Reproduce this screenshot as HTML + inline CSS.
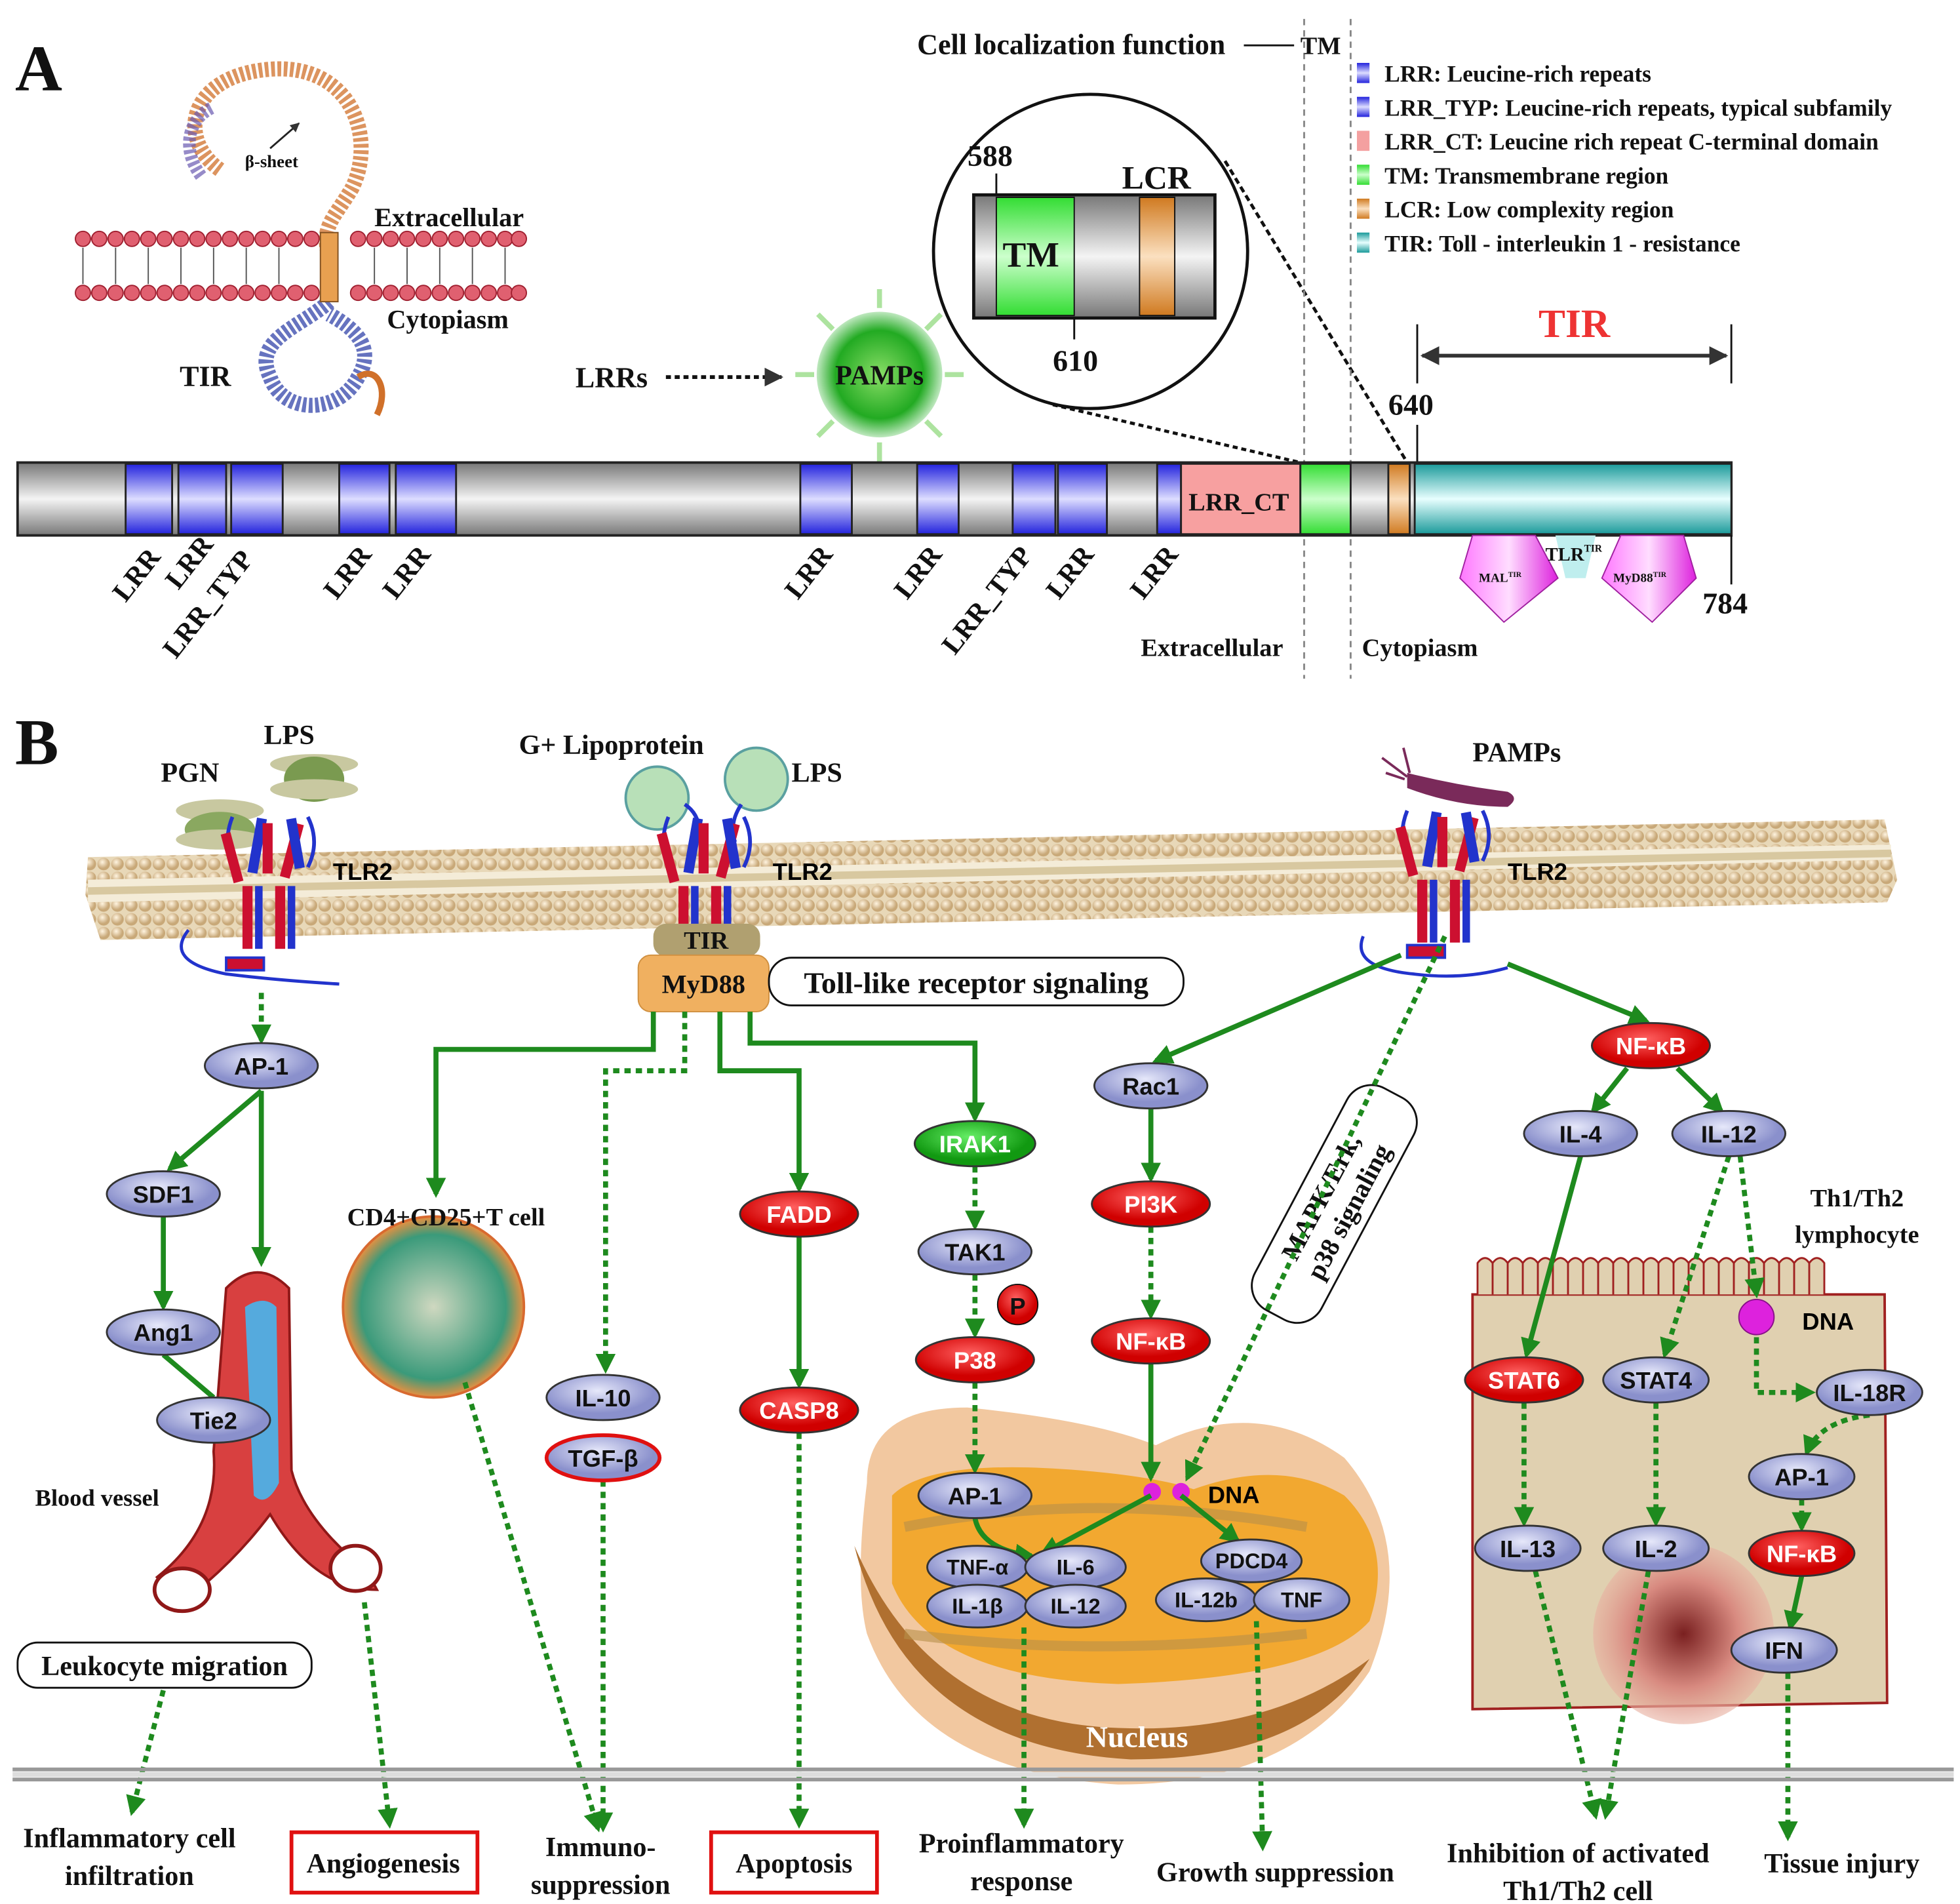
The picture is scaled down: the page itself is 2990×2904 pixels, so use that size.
<!DOCTYPE html>
<html><head><meta charset="utf-8"><style>
html,body{margin:0;padding:0;background:#fff}
svg{display:block}
.s{font-family:"Liberation Serif",serif;font-weight:bold;fill:#111}
.n{font-family:"Liberation Sans",sans-serif;font-weight:bold;text-anchor:middle;font-size:19px}
</style></head><body>
<svg width="2990" height="2904" viewBox="0 0 1560 1515" xmlns="http://www.w3.org/2000/svg">
<defs>
<linearGradient id="gbar" x1="0" y1="0" x2="0" y2="1"><stop offset="0" stop-color="#777"/><stop offset=".5" stop-color="#f4f4f4"/><stop offset="1" stop-color="#777"/></linearGradient>
<linearGradient id="gblue" x1="0" y1="0" x2="0" y2="1"><stop offset="0" stop-color="#2222dd"/><stop offset=".5" stop-color="#ddddff"/><stop offset="1" stop-color="#2222dd"/></linearGradient>
<linearGradient id="ggreen" x1="0" y1="0" x2="0" y2="1"><stop offset="0" stop-color="#33dd33"/><stop offset=".5" stop-color="#ccffcc"/><stop offset="1" stop-color="#33dd33"/></linearGradient>
<linearGradient id="gor" x1="0" y1="0" x2="0" y2="1"><stop offset="0" stop-color="#d07a20"/><stop offset=".5" stop-color="#fbe0c0"/><stop offset="1" stop-color="#d07a20"/></linearGradient>
<linearGradient id="gteal" x1="0" y1="0" x2="0" y2="1"><stop offset="0" stop-color="#1a9a9a"/><stop offset=".5" stop-color="#e8ffff"/><stop offset="1" stop-color="#1a9a9a"/></linearGradient>
<linearGradient id="gpink" x1="0" y1="0" x2="1" y2="0"><stop offset="0" stop-color="#ff77ff"/><stop offset=".5" stop-color="#ffddff"/><stop offset="1" stop-color="#dd22dd"/></linearGradient>
<radialGradient id="gpamp"><stop offset="0" stop-color="#88dd66"/><stop offset=".7" stop-color="#22aa22"/><stop offset="1" stop-color="#bfe8bf"/></radialGradient>
<radialGradient id="gnode" cx=".45" cy=".35"><stop offset="0" stop-color="#e6e8fa"/><stop offset="1" stop-color="#8a90cc"/></radialGradient>
<radialGradient id="gred" cx=".45" cy=".35"><stop offset="0" stop-color="#ff6060"/><stop offset="1" stop-color="#d00000"/></radialGradient>
<radialGradient id="ggr" cx=".45" cy=".35"><stop offset="0" stop-color="#66ee66"/><stop offset="1" stop-color="#119911"/></radialGradient>
<radialGradient id="gbead" cx=".4" cy=".35"><stop offset="0" stop-color="#fff4e0"/><stop offset="1" stop-color="#c8a878"/></radialGradient>
<radialGradient id="gtc"><stop offset="0" stop-color="#cfd8c0"/><stop offset=".8" stop-color="#3a9a7a"/><stop offset="1" stop-color="#e89040"/></radialGradient>
<radialGradient id="gnuc"><stop offset="0" stop-color="#7a2020"/><stop offset=".6" stop-color="#d88a80"/><stop offset="1" stop-color="#e8b0a0" stop-opacity=".6"/></radialGradient>
<pattern id="beads" width="11" height="11" patternUnits="userSpaceOnUse"><rect width="11" height="11" fill="#e8d8b8"/><circle cx="5.5" cy="5.5" r="5" fill="url(#gbead)"/></pattern>
<marker id="ag" viewBox="0 0 10 10" refX="8" refY="5" markerWidth="4" markerHeight="4" orient="auto"><path d="M0,0L10,5L0,10z" fill="#1e8a1e"/></marker>
<marker id="ak" viewBox="0 0 10 10" refX="9" refY="5" markerWidth="5" markerHeight="5" orient="auto-start-reverse"><path d="M0,0L10,5L0,10z" fill="#333"/></marker>
<g id="rec">
<path d="M-30,-45 q-8,20 0,40 M30,-45 q10,20 0,40" stroke="#2233cc" stroke-width="3" fill="none"/>
<rect x="-30" y="-40" width="8" height="40" fill="#cc1030" transform="rotate(-15)"/>
<rect x="-18" y="-42" width="8" height="44" fill="#2233cc" transform="rotate(10)"/>
<rect x="-6" y="-40" width="8" height="40" fill="#cc1030"/>
<rect x="8" y="-44" width="8" height="44" fill="#cc1030" transform="rotate(15)"/>
<rect x="20" y="-40" width="8" height="40" fill="#2233cc" transform="rotate(-10)"/>
<rect x="-22" y="10" width="8" height="50" fill="#cc1030"/><rect x="-12" y="10" width="6" height="50" fill="#2233cc"/>
<rect x="4" y="10" width="8" height="50" fill="#cc1030"/><rect x="14" y="10" width="6" height="50" fill="#2233cc"/>
</g>
</defs>

<text class="s" x="12" y="72" font-size="52">A</text>
<path d="M175,135 C140,110 150,60 215,55 C280,50 300,110 280,150 C265,175 255,180 262,205" stroke="#d0702a" stroke-width="12" fill="none" opacity=".75" stroke-dasharray="3 2"/>
<path d="M160,140 C145,120 148,95 170,85" stroke="#6a5ab0" stroke-width="10" fill="none" opacity=".7" stroke-dasharray="3 2"/>
<path d="M262,240 C240,260 200,270 215,300 C225,330 270,330 285,300 C300,275 280,260 262,250" stroke="#3344aa" stroke-width="12" fill="none" opacity=".75" stroke-dasharray="3 2"/>
<path d="M285,300 C300,290 310,310 300,330" stroke="#d0702a" stroke-width="5" fill="none"/>
<line x1="215" y1="118" x2="238" y2="98" stroke="#222" stroke-width="1.5" marker-end="url(#ak)"/>
<text class="s" x="195" y="133" font-size="14">β-sheet</text>
<g fill="#e06070" stroke="#a02030" stroke-width="1">
<g id="crow">
<circle cx="66" cy="190" r="6"/><circle cx="79" cy="190" r="6"/><circle cx="92" cy="190" r="6"/><circle cx="105" cy="190" r="6"/><circle cx="118" cy="190" r="6"/><circle cx="131" cy="190" r="6"/><circle cx="144" cy="190" r="6"/><circle cx="157" cy="190" r="6"/><circle cx="170" cy="190" r="6"/><circle cx="183" cy="190" r="6"/><circle cx="196" cy="190" r="6"/><circle cx="209" cy="190" r="6"/><circle cx="222" cy="190" r="6"/><circle cx="235" cy="190" r="6"/><circle cx="248" cy="190" r="6"/>
<circle cx="285" cy="190" r="6"/><circle cx="298" cy="190" r="6"/><circle cx="311" cy="190" r="6"/><circle cx="324" cy="190" r="6"/><circle cx="337" cy="190" r="6"/><circle cx="350" cy="190" r="6"/><circle cx="363" cy="190" r="6"/><circle cx="376" cy="190" r="6"/><circle cx="389" cy="190" r="6"/><circle cx="402" cy="190" r="6"/><circle cx="413" cy="190" r="6"/>
</g>
<use href="#crow" y="43"/>
</g>
<path d="M66,197V226M92,197V226M118,197V226M144,197V226M170,197V226M196,197V226M222,197V226M298,197V226M324,197V226M350,197V226M376,197V226M402,197V226" stroke="#555" stroke-width="1"/>
<rect x="255" y="185" width="14" height="55" fill="#e8a050" stroke="#805020"/>
<text class="s" x="298" y="180" font-size="21">Extracellular</text>
<text class="s" x="308" y="261" font-size="21">Cytopiasm</text>
<text class="s" x="143" y="307" font-size="23">TIR</text>
<text class="s" x="458" y="308" font-size="23">LRRs</text>
<line x1="530" y1="300" x2="622" y2="300" stroke="#111" stroke-width="3" stroke-dasharray="4 3" marker-end="url(#ak)"/>
<g stroke="#99dd88" stroke-width="4" opacity=".8"><path d="M700,245v-15M700,352v15M648,298h-15M752,298h15M663,262l-12,-12M737,262l12,-12M663,335l-12,12M737,335l12,12"/></g>
<circle cx="700" cy="298" r="50" fill="url(#gpamp)"/>
<text class="s" x="700" y="306" font-size="22" text-anchor="middle">PAMPs</text>
<ellipse cx="868" cy="200" rx="125" ry="125" fill="#fff" stroke="#111" stroke-width="2.5"/>
<rect x="775" y="155" width="192" height="98" fill="url(#gbar)" stroke="#111" stroke-width="2.5"/>
<rect x="793" y="157" width="62" height="94" fill="url(#ggreen)" stroke="#111"/>
<rect x="907" y="157" width="28" height="94" fill="url(#gor)" stroke="#111"/>
<line x1="793" y1="138" x2="793" y2="155" stroke="#111" stroke-width="1.5"/>
<line x1="855" y1="253" x2="855" y2="270" stroke="#111" stroke-width="1.5"/>
<text class="s" x="770" y="132" font-size="24" font-family="Liberation Sans">588</text>
<text class="s" x="893" y="150" font-size="26">LCR</text>
<text class="s" x="798" y="212" font-size="28">TM</text>
<text class="s" x="838" y="295" font-size="24" font-family="Liberation Sans">610</text>
<line x1="838" y1="322" x2="1035" y2="368" stroke="#111" stroke-width="2.5" stroke-dasharray="4 3"/>
<line x1="975" y1="128" x2="1120" y2="368" stroke="#111" stroke-width="2.5" stroke-dasharray="5 3"/>
<line x1="1038" y1="15" x2="1038" y2="540" stroke="#888" stroke-width="1.5" stroke-dasharray="5 4"/>
<line x1="1075" y1="15" x2="1075" y2="540" stroke="#888" stroke-width="1.5" stroke-dasharray="5 4"/>
<text class="s" x="730" y="43" font-size="23">Cell localization function</text>
<line x1="990" y1="36" x2="1030" y2="36" stroke="#111" stroke-width="1.5"/>
<text class="s" x="1035" y="43" font-size="20">TM</text>
<g class="s">
<rect x="1080" y="50" width="10" height="16" fill="url(#gblue)"/><text class="s" x="1102" y="65" font-size="18.5">LRR: Leucine-rich repeats</text>
<rect x="1080" y="77" width="10" height="16" fill="url(#gblue)"/><text class="s" x="1102" y="92" font-size="18.5">LRR_TYP: Leucine-rich repeats, typical  subfamily</text>
<rect x="1080" y="104" width="10" height="16" fill="#f4a0a0"/><text class="s" x="1102" y="119" font-size="18.5">LRR_CT: Leucine rich repeat C-terminal domain</text>
<rect x="1080" y="131" width="10" height="16" fill="url(#ggreen)"/><text class="s" x="1102" y="146" font-size="18.5">TM: Transmembrane region</text>
<rect x="1080" y="158" width="10" height="16" fill="url(#gor)"/><text class="s" x="1102" y="173" font-size="18.5">LCR: Low complexity region</text>
<rect x="1080" y="185" width="10" height="16" fill="url(#gteal)"/><text class="s" x="1102" y="200" font-size="18.5">TIR: Toll - interleukin 1 - resistance</text>
</g>
<text x="1253" y="268" font-size="32" text-anchor="middle" fill="#ee3333" font-family="Liberation Serif" font-weight="bold">TIR</text>
<line x1="1128" y1="258" x2="1128" y2="305" stroke="#111" stroke-width="1.5"/>
<line x1="1378" y1="258" x2="1378" y2="305" stroke="#111" stroke-width="1.5"/>
<line x1="1132" y1="283" x2="1374" y2="283" stroke="#333" stroke-width="3" marker-start="url(#ak)" marker-end="url(#ak)"/>
<text class="s" x="1105" y="330" font-size="24" font-family="Liberation Sans">640</text>
<line x1="1128" y1="338" x2="1128" y2="370" stroke="#111" stroke-width="1.5"/>
<rect x="14" y="368" width="1364" height="58" fill="url(#gbar)" stroke="#222" stroke-width="2"/>
<g stroke="#222" stroke-width="1.5">
<rect x="100" y="369" width="37" height="56" fill="url(#gblue)"/><rect x="142" y="369" width="38" height="56" fill="url(#gblue)"/><rect x="184" y="369" width="41" height="56" fill="url(#gblue)"/>
<rect x="270" y="369" width="40" height="56" fill="url(#gblue)"/><rect x="315" y="369" width="48" height="56" fill="url(#gblue)"/>
<rect x="637" y="369" width="41" height="56" fill="url(#gblue)"/><rect x="730" y="369" width="33" height="56" fill="url(#gblue)"/>
<rect x="806" y="369" width="34" height="56" fill="url(#gblue)"/><rect x="842" y="369" width="39" height="56" fill="url(#gblue)"/><rect x="921" y="369" width="19" height="56" fill="url(#gblue)"/>
<rect x="940" y="369" width="95" height="56" fill="#f7a0a0"/>
<rect x="1035" y="369" width="40" height="56" fill="url(#ggreen)"/>
<rect x="1105" y="369" width="17" height="56" fill="url(#gor)"/>
<rect x="1126" y="369" width="252" height="56" fill="url(#gteal)"/>
</g>
<text class="s" x="946" y="406" font-size="20">LRR_CT</text>
<polygon points="1238,426 1270,426 1262,460 1246,460" fill="#bfeeee"/>
<polygon points="1172,426 1222,426 1240,460 1197,495 1162,460" fill="url(#gpink)" stroke="#a020a0"/>
<polygon points="1290,426 1340,426 1350,460 1315,495 1275,460" fill="url(#gpink)" stroke="#a020a0"/>
<text class="s" x="1230" y="446" font-size="15">TLR<tspan font-size="8" dy="-7">TIR</tspan></text>
<text class="s" x="1177" y="463" font-size="10">MAL<tspan font-size="6" dy="-4">TIR</tspan></text>
<text class="s" x="1284" y="463" font-size="10">MyD88<tspan font-size="6" dy="-4">TIR</tspan></text>
<line x1="1378" y1="426" x2="1378" y2="465" stroke="#111" stroke-width="1.5"/>
<text class="s" x="1355" y="488" font-size="24" font-family="Liberation Sans">784</text>
<g class="s" font-size="22">
<text transform="translate(100,480) rotate(-52)">LRR</text>
<text transform="translate(142,470) rotate(-52)">LRR</text>
<text transform="translate(140,525) rotate(-52)">LRR_TYP</text>
<text transform="translate(268,478) rotate(-52)">LRR</text>
<text transform="translate(315,478) rotate(-52)">LRR</text>
<text transform="translate(635,478) rotate(-52)">LRR</text>
<text transform="translate(722,478) rotate(-52)">LRR</text>
<text transform="translate(760,522) rotate(-52)">LRR_TYP</text>
<text transform="translate(843,478) rotate(-52)">LRR</text>
<text transform="translate(910,478) rotate(-52)">LRR</text>
</g>
<text class="s" x="908" y="522" font-size="20">Extracellular</text>
<text class="s" x="1084" y="522" font-size="20">Cytopiasm</text>

<text class="s" x="12" y="608" font-size="52">B</text>
<polygon points="70,682 1500,652 1510,700 1502,718 80,748 68,712" fill="url(#beads)"/>
<polygon points="70,700 1505,672 1505,684 70,718" fill="#f4ecd8"/>
<path d="M70,709 L1505,679" stroke="#d8c8a0" stroke-width="6"/>
<g><ellipse cx="175" cy="645" rx="35" ry="9" fill="#c8c8a0"/><ellipse cx="175" cy="660" rx="28" ry="14" fill="#8aa860"/><ellipse cx="175" cy="668" rx="35" ry="8" fill="#c8c8a0"/></g>
<g><ellipse cx="250" cy="608" rx="35" ry="8" fill="#c8c8a0"/><ellipse cx="250" cy="620" rx="24" ry="18" fill="#7a9a50"/><ellipse cx="250" cy="628" rx="35" ry="8" fill="#c8c8a0"/></g>
<text class="s" x="128" y="622" font-size="22">PGN</text>
<text class="s" x="210" y="592" font-size="22">LPS</text>
<circle cx="523" cy="635" r="25" fill="#b8e0b8" stroke="#5aa0a0" stroke-width="2"/>
<circle cx="602" cy="620" r="25" fill="#b8e0b8" stroke="#5aa0a0" stroke-width="2"/>
<path d="M545,640 q15,10 10,30 M590,640 q-10,15 -5,30" stroke="#2233cc" stroke-width="3" fill="none"/>
<text class="s" x="413" y="600" font-size="22">G+ Lipoprotein</text>
<text class="s" x="630" y="622" font-size="22">LPS</text>
<path d="M1120,615 q40,10 80,15 q10,5 0,12 q-40,0 -80,-15 z" fill="#7a2a5a"/>
<path d="M1120,618 l-20,-15 M1118,620 l-15,-5 M1122,615 l-5,-20" stroke="#7a2a5a" stroke-width="2"/>
<text class="s" x="1172" y="606" font-size="22">PAMPs</text>
<use href="#rec" x="215" y="695"/>
<use href="#rec" x="562" y="695"/>
<use href="#rec" x="1150" y="690"/>
<path d="M150,740 q-20,25 30,35 q40,5 90,8 M1085,745 q-10,25 40,30 q40,5 75,-5" stroke="#2233cc" stroke-width="2.5" fill="none"/>
<rect x="180" y="762" width="30" height="10" fill="#cc1030" stroke="#2233cc" stroke-width="2"/>
<rect x="1120" y="752" width="30" height="10" fill="#cc1030" stroke="#2233cc" stroke-width="2"/>
<g class="n" font-size="24"><text x="265" y="700" text-anchor="start">TLR2</text><text x="615" y="700" text-anchor="start">TLR2</text><text x="1200" y="700" text-anchor="start">TLR2</text></g>
<rect x="520" y="735" width="85" height="26" rx="10" fill="#b0a070"/>
<text class="s" x="562" y="755" font-size="20" text-anchor="middle">TIR</text>
<rect x="508" y="760" width="104" height="45" rx="10" fill="#f0b060" stroke="#d09040"/>
<text class="s" x="560" y="790" font-size="21" text-anchor="middle">MyD88</text>
<rect x="612" y="762" width="330" height="38" rx="18" fill="#fff" stroke="#111" stroke-width="1.5"/>
<text class="s" x="777" y="790" font-size="24" text-anchor="middle">Toll-like receptor signaling</text>

<path d="M180,1025 q25,-25 50,0 L232,1170 q10,40 60,80 L300,1265 q-50,0 -85,-60 q-30,40 -70,70 L125,1255 q50,-40 45,-100 z" fill="#d84040" stroke="#901818" stroke-width="2"/>
<path d="M195,1040 q15,-10 25,0 L222,1180 q-10,20 -20,10 z" fill="#55aadd"/>
<ellipse cx="145" cy="1265" rx="22" ry="17" fill="#fff" stroke="#901818" stroke-width="3"/>
<ellipse cx="283" cy="1248" rx="20" ry="18" fill="#fff" stroke="#901818" stroke-width="3"/>
<text class="s" x="28" y="1198" font-size="19">Blood vessel</text>
<rect x="14" y="1307" width="234" height="36" rx="16" fill="#fff" stroke="#111" stroke-width="1.5"/>
<text class="s" x="131" y="1333" font-size="22" text-anchor="middle">Leukocyte migration</text>
<circle cx="345" cy="1040" r="72" fill="url(#gtc)" stroke="#d86a30" stroke-width="2"/>
<text class="s" x="355" y="975" font-size="20" text-anchor="middle">CD4+CD25+T cell</text>
<path d="M690,1180 q0,-60 80,-60 q100,10 150,30 q80,-40 150,10 q60,70 20,170 q-60,90 -200,90 q-160,-10 -200,-120 q-10,-40 0,-120 z" fill="#f2c8a0"/>
<path d="M680,1230 q40,160 220,170 q140,0 190,-80 q-80,60 -200,55 q-150,-5 -210,-145 z" fill="#b07030"/>
<path d="M710,1190 q30,-30 150,-20 q60,5 90,15 q70,-25 120,5 q40,40 20,100 q-40,45 -200,50 q-150,-5 -180,-80 z" fill="#f2a830"/>
<path d="M720,1215 q150,-30 320,0 M720,1300 q150,20 320,0" stroke="#b8904a" stroke-width="8" fill="none" opacity=".6"/>
<text x="905" y="1390" font-size="24" font-family="Liberation Serif" font-weight="bold" fill="#fff" text-anchor="middle">Nucleus</text>
<g transform="translate(1062,958) rotate(-62)"><rect x="-100" y="-30" width="200" height="60" rx="22" fill="#fff" stroke="#111" stroke-width="1.5"/>
<text class="s" x="0" y="-5" font-size="21" text-anchor="middle">MAPK/Erk,</text><text class="s" x="0" y="20" font-size="21" text-anchor="middle">p38 signaling</text></g>
<path d="M1172,1030 L1500,1030 L1502,1355 L1172,1360 z" fill="#e0d0b0" stroke="#a02020" stroke-width="2"/>
<path d="M1176,1030 v-25 q6,-8 12,0 v25 v-25 q6,-8 12,0 v25 v-25 q6,-8 12,0 v25 v-25 q6,-8 12,0 v25 v-25 q6,-8 12,0 v25 v-25 q6,-8 12,0 v25 v-25 q6,-8 12,0 v25 v-25 q6,-8 12,0 v25 v-25 q6,-8 12,0 v25 v-25 q6,-8 12,0 v25 v-25 q6,-8 12,0 v25 v-25 q6,-8 12,0 v25 v-25 q6,-8 12,0 v25 v-25 q6,-8 12,0 v25 v-25 q6,-8 12,0 v25 v-25 q6,-8 12,0 v25 v-25 q6,-8 12,0 v25 v-25 q6,-8 12,0 v25 v-25 q6,-8 12,0 v25 v-25 q6,-8 12,0 v25 v-25 q6,-8 12,0 v25 v-25 q6,-8 12,0 v25 v-25 q6,-8 12,0 v25" fill="#e0d0b0" stroke="#a02020" stroke-width="1.5"/>
<circle cx="1340" cy="1300" r="72" fill="url(#gnuc)"/>
<text class="s" x="1478" y="960" font-size="20" text-anchor="middle">Th1/Th2</text>
<text class="s" x="1478" y="989" font-size="20" text-anchor="middle">lymphocyte</text>
<circle cx="1398" cy="1048" r="14" fill="#dd22dd" stroke="#881188"/>
<text class="n" x="1455" y="1058" font-size="22">DNA</text>
<circle cx="917" cy="1187" r="7" fill="#dd22dd"/><circle cx="940" cy="1187" r="7" fill="#dd22dd"/>
<text class="n" x="982" y="1196" font-size="22">DNA</text>
<circle cx="810" cy="1038" r="16" fill="url(#gred)" stroke="#111"/><text class="n" x="810" y="1046" font-size="19" fill="#111">P</text>

<g stroke="#1e8a1e" stroke-width="4" fill="none" marker-end="url(#ag)">
<path d="M208,868 L135,930"/><path d="M208,868 V1005"/><path d="M130,968 V1040"/>
<path d="M520,805 V835 H347 V950"/><path d="M573,805 V852 H636 V946"/><path d="M597,805 V830 H776 V890"/>
<path d="M636,984 V1102"/>
<path d="M1115,760 L920,844"/><path d="M1200,767 L1310,812"/>
<path d="M916,882 V938"/><path d="M916,1085 V1176"/>
<path d="M916,1190 L830,1236"/><path d="M940,1190 L985,1226"/><path d="M776,1208 q5,25 45,30"/>
<path d="M1295,850 L1268,884"/><path d="M1335,850 L1370,884"/>
<path d="M1258,920 L1215,1078"/><path d="M1434,1254 L1425,1295"/>
</g>
<path d="M130,1078 L170,1112" stroke="#1e8a1e" stroke-width="4"/>
<g stroke="#1e8a1e" stroke-width="4" fill="none" stroke-dasharray="5 4" marker-end="url(#ag)">
<path d="M208,790 V828"/>
<path d="M545,805 V852 H482 V1090"/>
<path d="M776,928 V976"/><path d="M776,1014 V1062"/><path d="M776,1100 V1170"/>
<path d="M636,1140 V1452"/><path d="M480,1178 V1455"/><path d="M370,1100 L476,1455"/>
<path d="M290,1275 L310,1452"/><path d="M130,1345 L105,1442"/>
<path d="M916,976 V1047"/><path d="M1150,745 L945,1176"/>
<path d="M815,1295 V1452"/><path d="M1000,1290 L1005,1470"/>
<path d="M1376,920 L1325,1078"/><path d="M1385,920 L1398,1030"/>
<path d="M1398,1064 V1108 H1442"/><path d="M1488,1126 q-40,5 -50,30"/>
<path d="M1434,1193 V1216"/><path d="M1423,1331 V1462"/>
<path d="M1213,1116 V1212"/><path d="M1318,1116 V1212"/>
<path d="M1222,1250 L1270,1445"/><path d="M1312,1250 L1278,1445"/>
</g>

<g stroke="#333" stroke-width="1.5">
<ellipse cx="208" cy="848" rx="45" ry="18" fill="url(#gnode)"/>
<ellipse cx="130" cy="950" rx="45" ry="18" fill="url(#gnode)"/>
<ellipse cx="130" cy="1060" rx="45" ry="18" fill="url(#gnode)"/>
<ellipse cx="170" cy="1130" rx="45" ry="18" fill="url(#gnode)"/>
<ellipse cx="480" cy="1112" rx="45" ry="18" fill="url(#gnode)"/>
<ellipse cx="480" cy="1160" rx="45" ry="18" fill="url(#gnode)" stroke="#e01010" stroke-width="3"/>
<ellipse cx="636" cy="966" rx="47" ry="18" fill="url(#gred)"/>
<ellipse cx="636" cy="1122" rx="47" ry="18" fill="url(#gred)"/>
<ellipse cx="776" cy="910" rx="48" ry="18" fill="url(#ggr)"/>
<ellipse cx="776" cy="996" rx="45" ry="18" fill="url(#gnode)"/>
<ellipse cx="776" cy="1082" rx="47" ry="18" fill="url(#gred)"/>
<ellipse cx="916" cy="864" rx="45" ry="18" fill="url(#gnode)"/>
<ellipse cx="916" cy="958" rx="47" ry="18" fill="url(#gred)"/>
<ellipse cx="916" cy="1067" rx="47" ry="18" fill="url(#gred)"/>
<ellipse cx="1314" cy="832" rx="47" ry="18" fill="url(#gred)"/>
<ellipse cx="1258" cy="902" rx="45" ry="18" fill="url(#gnode)"/>
<ellipse cx="1376" cy="902" rx="45" ry="18" fill="url(#gnode)"/>
<ellipse cx="1213" cy="1098" rx="47" ry="18" fill="url(#gred)"/>
<ellipse cx="1318" cy="1098" rx="42" ry="18" fill="url(#gnode)"/>
<ellipse cx="1488" cy="1108" rx="42" ry="18" fill="url(#gnode)"/>
<ellipse cx="1434" cy="1175" rx="42" ry="18" fill="url(#gnode)"/>
<ellipse cx="1434" cy="1236" rx="42" ry="18" fill="url(#gred)"/>
<ellipse cx="1420" cy="1313" rx="42" ry="18" fill="url(#gnode)"/>
<ellipse cx="1216" cy="1232" rx="42" ry="18" fill="url(#gnode)"/>
<ellipse cx="1318" cy="1232" rx="42" ry="18" fill="url(#gnode)"/>
<ellipse cx="776" cy="1190" rx="45" ry="18" fill="url(#gnode)"/>
<ellipse cx="778" cy="1247" rx="40" ry="17" fill="url(#gnode)"/>
<ellipse cx="856" cy="1247" rx="40" ry="17" fill="url(#gnode)"/>
<ellipse cx="778" cy="1278" rx="40" ry="17" fill="url(#gnode)"/>
<ellipse cx="856" cy="1278" rx="40" ry="17" fill="url(#gnode)"/>
<ellipse cx="996" cy="1242" rx="40" ry="17" fill="url(#gnode)"/>
<ellipse cx="960" cy="1273" rx="40" ry="17" fill="url(#gnode)"/>
<ellipse cx="1036" cy="1273" rx="38" ry="17" fill="url(#gnode)"/>
</g>
<g class="n" fill="#111">
<text x="208" y="855">AP-1</text><text x="130" y="957">SDF1</text><text x="130" y="1067">Ang1</text><text x="170" y="1137">Tie2</text>
<text x="480" y="1119">IL-10</text><text x="480" y="1167">TGF-β</text>
<text x="776" y="1003">TAK1</text><text x="916" y="871">Rac1</text>
<text x="1258" y="909">IL-4</text><text x="1376" y="909">IL-12</text><text x="1318" y="1105">STAT4</text>
<text x="1488" y="1115">IL-18R</text><text x="1434" y="1182">AP-1</text><text x="1420" y="1320">IFN</text>
<text x="1216" y="1239">IL-13</text><text x="1318" y="1239">IL-2</text><text x="776" y="1197">AP-1</text>
<text x="778" y="1253" font-size="17">TNF-α</text><text x="856" y="1253" font-size="17">IL-6</text>
<text x="778" y="1284" font-size="17">IL-1β</text><text x="856" y="1284" font-size="17">IL-12</text>
<text x="996" y="1248" font-size="17">PDCD4</text><text x="960" y="1279" font-size="17">IL-12b</text><text x="1036" y="1279" font-size="17">TNF</text>
</g>
<g class="n" fill="#fff">
<text x="636" y="973">FADD</text><text x="636" y="1129">CASP8</text><text x="776" y="917">IRAK1</text><text x="776" y="1089">P38</text>
<text x="916" y="965">PI3K</text><text x="916" y="1074">NF-κB</text><text x="1314" y="839">NF-κB</text>
<text x="1213" y="1105">STAT6</text><text x="1434" y="1243">NF-κB</text>
</g>

<path d="M10,1408 L1555,1408 M10,1416 L1555,1416" stroke="#999" stroke-width="3"/>
<path d="M10,1412 L1555,1412" stroke="#ddd" stroke-width="4"/>
<g class="s" font-size="22" text-anchor="middle">
<text x="103" y="1470">Inflammatory cell</text><text x="103" y="1500">infiltration</text>
<text x="478" y="1477">Immuno-</text><text x="478" y="1507">suppression</text>
<text x="813" y="1474">Proinflammatory</text><text x="813" y="1504">response</text>
<text x="1015" y="1497">Growth suppression</text>
<text x="1256" y="1482">Inhibition of activated</text><text x="1256" y="1512">Th1/Th2 cell</text>
<text x="1466" y="1490">Tissue injury</text>
<text x="305" y="1490">Angiogenesis</text><text x="632" y="1490">Apoptosis</text>
</g>
<rect x="232" y="1458" width="148" height="48" fill="none" stroke="#e01010" stroke-width="3"/>
<rect x="566" y="1458" width="132" height="48" fill="none" stroke="#e01010" stroke-width="3"/>
</svg>
</body></html>
